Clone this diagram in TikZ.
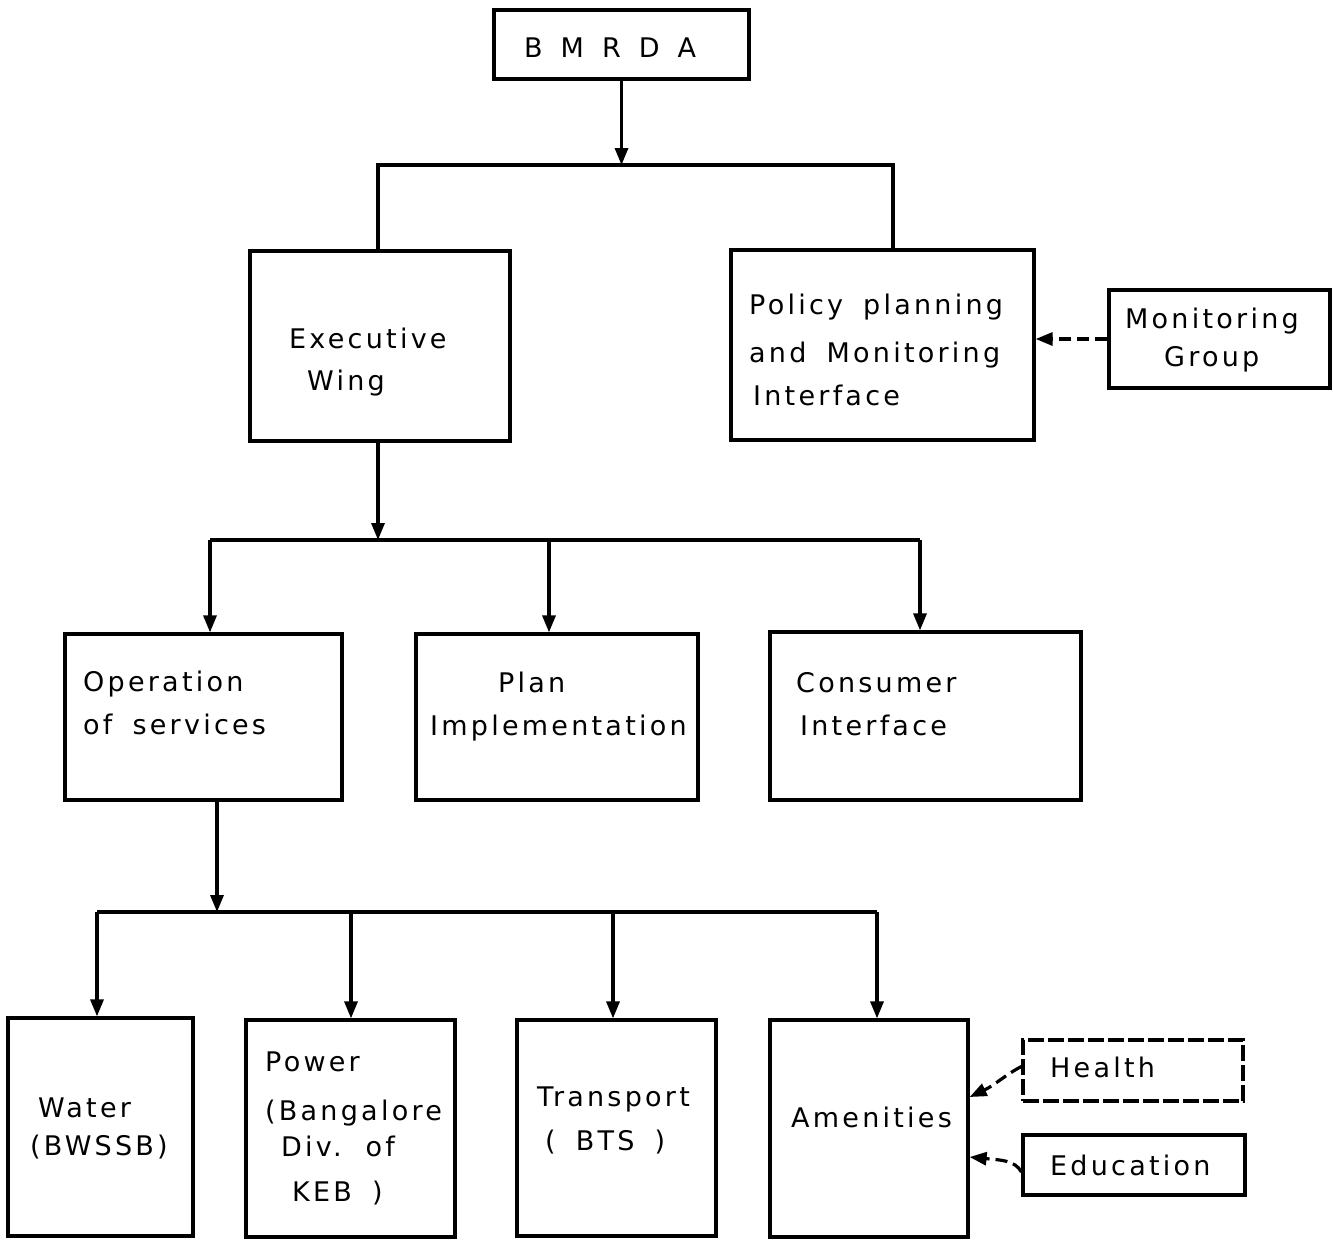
\documentclass[tikz,border=0pt]{standalone}
\usepackage{fontspec}
\setmainfont{DejaVu Sans}[LetterSpace=12.0,WordSpace=1.7]
\usetikzlibrary{arrows.meta,calc}
\begin{document}
\begin{tikzpicture}[x=1pt,y=-1pt,
  box/.style={draw,line width=3.2pt,rectangle,inner sep=0pt},
  ln/.style={line width=3.2pt},
  arr/.style={line width=3.2pt,-{Triangle[length=17pt,width=13pt]}},
  darr/.style={line width=3.2pt,dash pattern=on 12pt off 6pt,-{Triangle[length=17pt,width=13pt]}},
  txt/.style={anchor=base west,inner sep=0pt,font=\fontsize{27}{32}\selectfont}]
\useasboundingbox (0,0) rectangle (1333,1240);
% boxes
\node[box,minimum width=255pt,minimum height=69pt] (bmrda) at (621.5,44.5) {};
\node[box,minimum width=260pt,minimum height=190pt] (exec) at (380,346) {};
\node[box,minimum width=303pt,minimum height=190pt] (pol) at (882.5,345) {};
\node[box,minimum width=221pt,minimum height=98pt] (mon) at (1219.5,339) {};
\node[box,minimum width=277pt,minimum height=166pt] (ops) at (203.5,717) {};
\node[box,minimum width=282pt,minimum height=166pt] (plan) at (557,717) {};
\node[box,minimum width=311pt,minimum height=168pt] (cons) at (925.5,716) {};
\node[box,minimum width=185pt,minimum height=218pt] (water) at (100.5,1127) {};
\node[box,minimum width=209pt,minimum height=217pt] (power) at (350.5,1128.5) {};
\node[box,minimum width=199pt,minimum height=216pt] (trans) at (616.5,1128) {};
\node[box,minimum width=198pt,minimum height=217pt] (amen) at (869,1128.5) {};
\node[box,dash pattern=on 16pt off 4pt,minimum width=220pt,minimum height=61pt] (health) at (1133,1070.5) {};
\node[box,minimum width=222pt,minimum height=60pt] (edu) at (1134,1165) {};
% texts
\node[txt] (tb) at (524,57) {B\hspace{18pt}M\hspace{18pt}R\hspace{18pt}D\hspace{18pt}A};
\node[txt] (te1) at (289,348) {Executive};
\node[txt] (te2) at (307,390) {Wing};
\node[txt] (tp1) at (749,314) {Policy planning};
\node[txt] (tp2) at (749,362) {and Monitoring};
\node[txt] (tp3) at (753,405) {Interface};
\node[txt] (tm1) at (1125,328) {Monitoring};
\node[txt] (tm2) at (1164,366) {Group};
\node[txt] (to1) at (83,691) {Operation};
\node[txt] (to2) at (83,734) {of services};
\node[txt] (tl1) at (498,692) {Plan};
\node[txt] (tl2) at (430,735) {Implementation};
\node[txt] (tc1) at (796,692) {Consumer};
\node[txt] (tc2) at (800,735) {Interface};
\node[txt] (tw1) at (38,1117) {Water};
\node[txt] (tw2) at (30,1155) {(BWSSB)};
\node[txt] (tq1) at (265,1071) {Power};
\node[txt] (tq2) at (265,1120) {(Bangalore};
\node[txt] (tq3) at (281,1156) {Div. of};
\node[txt] (tq4) at (292,1201) {KEB )};
\node[txt] (tt1) at (537,1106) {Transport};
\node[txt] (tt2) at (545,1150) {( BTS )};
\node[txt] (ta1) at (791,1127) {Amenities};
\node[txt] (th1) at (1050,1077) {Health};
\node[txt] (td1) at (1050,1175) {Education};
% bus coordinates
\coordinate (b1L) at (378,165);
\coordinate (b1R) at (893,165);
\coordinate (b2L) at (210,540);
\coordinate (b2M) at (549,540);
\coordinate (b2R) at (920,540);
\coordinate (j2) at (378,540);
\coordinate (b3L) at (97,912);
\coordinate (b3a) at (351,912);
\coordinate (b3b) at (613,912);
\coordinate (b3R) at (877,912);
\coordinate (j3) at (217,912);
% connectors
\draw[arr] (bmrda.south) -- (bmrda.south |- b1L);
\draw[ln] (b1L |- exec.north) -- (b1L) -- (b1R) -- (b1R |- pol.north);
\draw[arr] (j2 |- exec.south) -- (j2);
\draw[ln] (b2L) -- (b2R);
\draw[arr] (b2L) -- (b2L |- ops.north);
\draw[arr] (b2M) -- (b2M |- plan.north);
\draw[arr] (b2R) -- (b2R |- cons.north);
\draw[arr] (j3 |- ops.south) -- (j3);
\draw[ln] (b3L) -- (b3R);
\draw[arr] (b3L) -- (b3L |- water.north);
\draw[arr] (b3a) -- (b3a |- power.north);
\draw[arr] (b3b) -- (b3b |- trans.north);
\draw[arr] (b3R) -- (b3R |- amen.north);
\draw[darr] (mon.west) -- (pol.east |- mon.west);
\draw[darr] ([yshift=4pt]health.west) .. controls (1005,1075) and (995,1085) .. ([yshift=31.5pt]amen.east);
\draw[darr] ([yshift=-7pt]edu.west) .. controls (1015,1160) and (1000,1160) .. ([yshift=-28.5pt]amen.east);
\end{tikzpicture}
\end{document}
